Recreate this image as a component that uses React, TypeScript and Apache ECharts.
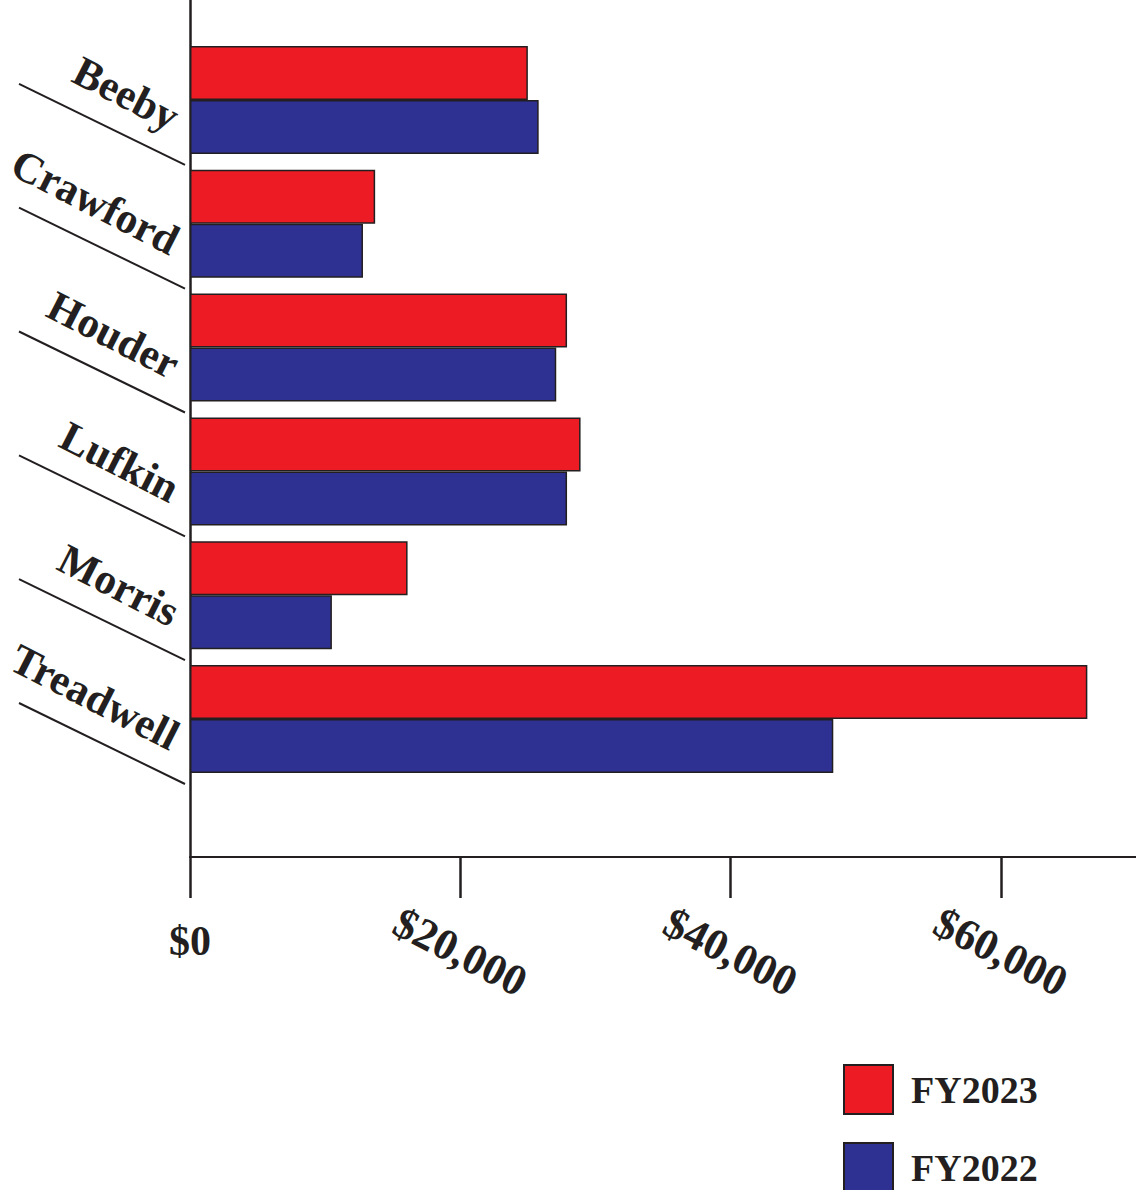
import React, { useEffect, useRef } from "react";
import * as echarts from "echarts";

const categories = ["Beeby", "Crawford", "Houder", "Lufkin", "Morris", "Treadwell"];
const fy2023 = [25000, 13700, 27900, 28900, 16100, 66400];
const fy2022 = [25800, 12800, 27100, 27900, 10500, 47600];
const seriesNames = ["FY2023", "FY2022"];
const tickValues = [0, 20000, 40000, 60000];
const tickLabels = ["$0", "$20,000", "$40,000", "$60,000"];

const INK = "#231f20";
const RED = "#ED1C24";
const BLUE = "#2E3192";
const FONT = "'Liberation Serif', 'Times New Roman', serif";

const labelFor = (v: number) => {
  const i = tickValues.indexOf(v);
  return i >= 0 ? tickLabels[i] : "";
};

export default function App() {
  const ref = useRef<HTMLDivElement>(null);
  useEffect(() => {
    if (!ref.current) return;
    const chart = echarts.init(ref.current, undefined, { renderer: "svg" });
    chart.setOption({
      animation: false,
      backgroundColor: "#ffffff",
      grid: [
        { left: 190, top: 38, width: 946, height: 743, containLabel: false },
        { left: 190, top: 0, width: 946, height: 857, containLabel: false },
      ],
      xAxis: [
        { type: "value", gridIndex: 0, min: 0, max: 70000, show: false },
        {
          type: "value",
          gridIndex: 1,
          min: 0,
          max: 70000,
          position: "bottom",
          axisLine: { show: true, onZero: false, lineStyle: { color: INK, width: 2 } },
          axisTick: {
            show: true,
            customValues: tickValues,
            length: 41,
            inside: false,
            lineStyle: { color: INK, width: 2.5 },
          },
          splitLine: { show: false },
          axisLabel: {
            show: true,
            customValues: tickValues.slice(1),
            rotate: -27,
            align: "center",
            verticalAlign: "middle",
            margin: 95,
            formatter: (v: number) => labelFor(v),
            color: INK,
            fontFamily: FONT,
            fontWeight: "bold",
            fontSize: 44,
          },
        },
        {
          type: "value",
          gridIndex: 1,
          min: 0,
          max: 70000,
          position: "bottom",
          axisLine: { show: false, onZero: false },
          axisTick: { show: false },
          splitLine: { show: false },
          axisLabel: {
            show: true,
            customValues: [tickValues[0]],
            rotate: 0,
            align: "center",
            verticalAlign: "middle",
            margin: 84,
            formatter: (v: number) => labelFor(v),
            color: INK,
            fontFamily: FONT,
            fontWeight: "bold",
            fontSize: 42,
          },
        },
      ],
      yAxis: [
        {
          type: "category",
          gridIndex: 0,
          data: categories,
          inverse: true,
          axisLine: { show: false },
          axisTick: { show: false },
          splitLine: { show: false },
          axisLabel: {
            show: true,
            interval: 0,
            rotate: -27,
            align: "right",
            verticalAlign: "top",
            margin: 4,
            color: INK,
            fontFamily: FONT,
            fontWeight: "bold",
            fontSize: 43,
          },
        },
        {
          type: "value",
          gridIndex: 1,
          min: 0,
          max: 1,
          axisLine: { show: true, onZero: false, lineStyle: { color: INK, width: 2.5 } },
          axisTick: { show: false },
          axisLabel: { show: false },
          splitLine: { show: false },
        },
      ],
      legend: {
        data: seriesNames,
        orient: "vertical",
        left: 843,
        top: 1064,
        width: 290,
        height: 200,
        padding: 0,
        itemWidth: 49,
        itemHeight: 49,
        itemGap: 27,
        icon: "rect",
        itemStyle: { borderColor: INK, borderWidth: 2 },
        textStyle: {
          color: INK,
          fontFamily: FONT,
          fontWeight: "bold",
          fontSize: 38,
          padding: [0, 0, 0, 13],
        },
      },
      series: [
        {
          name: seriesNames[0],
          type: "bar",
          xAxisIndex: 0,
          yAxisIndex: 0,
          data: fy2023,
          barWidth: 54,
          barGap: "0%",
          itemStyle: { color: RED, borderColor: INK, borderWidth: 1.5 },
        },
        {
          name: seriesNames[1],
          type: "bar",
          xAxisIndex: 0,
          yAxisIndex: 0,
          data: fy2022,
          barWidth: 54,
          barGap: "0%",
          itemStyle: { color: BLUE, borderColor: INK, borderWidth: 1.5 },
        },
        {
          name: "separators",
          type: "custom",
          xAxisIndex: 0,
          yAxisIndex: 0,
          silent: true,
          clip: false,
          data: categories.map((_, i) => [0, i]),
          encode: { x: 0, y: 1 },
          renderItem: (params: any, api: any) => {
            const idx = api.value(1);
            const p = api.coord([0, idx]);
            const band = api.size([0, 1])[1];
            const yEnd = p[1] + band / 2 + 3;
            const xEnd = p[0] - 5;
            return {
              type: "line",
              shape: { x1: xEnd - 166, y1: yEnd - 81, x2: xEnd, y2: yEnd },
              style: { stroke: INK, lineWidth: 2 },
            };
          },
        },
      ],
    });
    return () => chart.dispose();
  }, []);
  return (
    <div
      ref={ref}
      style={{ position: "fixed", left: 0, top: 0, width: 1136, height: 1190, background: "#fff" }}
    />
  );
}
